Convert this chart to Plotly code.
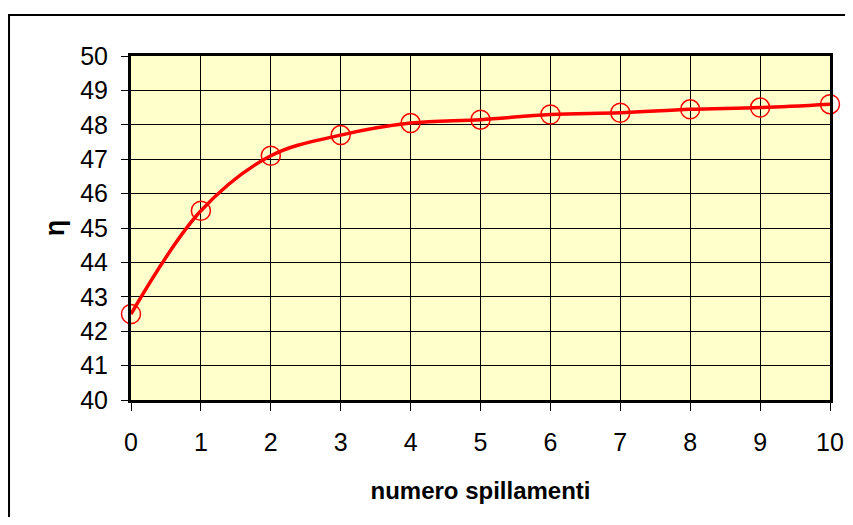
import plotly.graph_objects as go

spillamenti = [0, 1, 2, 3, 4, 5, 6, 7, 8, 9, 10]
eta = [42.5, 45.5, 47.1, 47.7, 48.05, 48.15, 48.3, 48.35, 48.45, 48.5, 48.6]

# page body has an 8px margin, so the figure is sized/placed to compensate
fig = go.Figure()
fig.add_trace(go.Scatter(
    x=spillamenti, y=eta, mode="lines+markers",
    line=dict(color="#FF0000", width=3.5, shape="spline", smoothing=1),
    marker=dict(symbol="circle-open", size=19, color="#FF0000",
                line=dict(color="#FF0000", width=1.5)),
    cliponaxis=False, showlegend=False,
))

fig.update_layout(
    width=837, height=509,
    margin=dict(l=123, r=15, t=48, b=117),
    paper_bgcolor="white",
    plot_bgcolor="#FFFFCC",
    font=dict(family="Liberation Sans, Arial", size=25, color="black"),
    shapes=[dict(type="rect", xref="paper", yref="paper",
                 x0=-0.1745, x1=1.06, y0=-0.4, y1=1.119,
                 line=dict(color="black", width=2), layer="below")],
)
fig.update_xaxes(
    range=[0, 10], dtick=1, showgrid=True, gridcolor="black", gridwidth=1,
    showline=True, linecolor="black", linewidth=3, mirror=True,
    ticks="outside", ticklen=8, tickcolor="black", ticklabelstandoff=10,
    zeroline=False, automargin=False,
    title=dict(text="<b>numero spillamenti</b>", standoff=28,
               font=dict(size=24)),
)
fig.update_yaxes(
    range=[40, 50], dtick=1, showgrid=True, gridcolor="black", gridwidth=1,
    showline=True, linecolor="black", linewidth=3, mirror=True,
    ticks="outside", ticklen=7, tickcolor="black", ticklabelstandoff=8,
    zeroline=False, automargin=False,
    title=dict(text="<b>η</b>", standoff=8, font=dict(size=27)),
)

fig.write_html("out.html")
